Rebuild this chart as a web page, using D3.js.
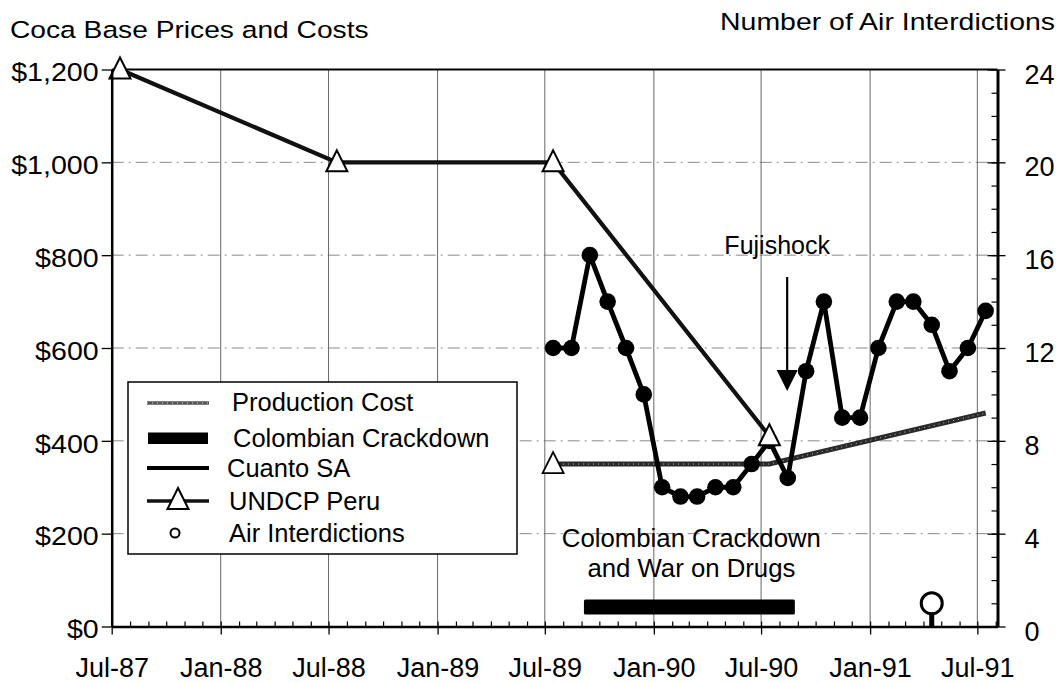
<!DOCTYPE html>
<html><head><meta charset="utf-8">
<script src="https://cdn.jsdelivr.net/npm/d3@7"></script>
<style>
html,body{margin:0;padding:0;background:#fff;}
svg{display:block;font-family:"Liberation Sans",Arial,Helvetica,sans-serif;}
</style></head><body>
<svg id="chart" width="1060" height="683"></svg>
<script>
// ---------- data ----------
const xTickDates = ["1987-07-01","1988-01-01","1988-07-01","1989-01-01","1989-07-01","1990-01-01","1990-07-01","1991-01-01","1991-07-01"];
const xTickLabels = ["Jul-87","Jan-88","Jul-88","Jan-89","Jul-89","Jan-90","Jul-90","Jan-91","Jul-91"];
const leftTickValues = [0,200,400,600,800,1000,1200];
const leftTickLabels = ["$0","$200","$400","$600","$800","$1,000","$1,200"];
const rightTickValues = [0,4,8,12,16,20,24];
const rightTickLabels = ["0","4","8","12","16","20","24"];

const undcpDates = ["1987-07-15","1988-07-15","1989-07-15","1990-07-15"];
const undcpValues = [1200,1000,1000,410];

const cuantoMonths = ["1989-07","1989-08","1989-09","1989-10","1989-11","1989-12",
  "1990-01","1990-02","1990-03","1990-04","1990-05","1990-06","1990-07","1990-08",
  "1990-09","1990-10","1990-11","1990-12","1991-01","1991-02","1991-03","1991-04",
  "1991-05","1991-06","1991-07"];
const cuantoValues = [600,600,800,700,600,500,300,280,280,300,300,350,400,320,550,700,450,450,600,700,700,650,550,600,680];

const costDates = ["1989-07-15","1990-07-15","1991-07-15"];
const costValues = [350,350,460];

const crackdownPeriod = ["1989-09-05","1990-08-27"];
const interdictionDates = ["1991-04-15"];
const interdictionValues = [1];
const fujishockDate = "1990-08-14";

const legendLabels = ["Production Cost","Colombian Crackdown","Cuanto SA","UNDCP Peru","Air Interdictions"];
const leftTitle = "Coca Base Prices and Costs";
const rightTitle = "Number of Air Interdictions";
const fujiLabel = "Fujishock";
const crackdownLabel = ["Colombian Crackdown","and War on Drugs"];

// ---------- setup ----------
const parseDay = d3.timeParse("%Y-%m-%d");
const parseMonth = d3.timeParse("%Y-%m");
const svg = d3.select("#chart");
const L = 111.7, R = 997.5, T = 69.5, B = 626.5;

const x = d3.scaleTime().domain([parseDay("1987-07-01"), parseDay("1991-08-04")]).range([L, R]);
const yL = d3.scaleLinear().domain([0,1200]).range([B, T]);
const yR = d3.scaleLinear().domain([0,24]).range([B, T]);

function stretch(sel, k){
  sel.each(function(){
    const len = this.getComputedTextLength();
    if(len>0){ this.setAttribute("textLength",(len*k).toFixed(1)); this.setAttribute("lengthAdjust","spacingAndGlyphs"); }
  });
}

// ---------- grid ----------
const grid = svg.append("g");
grid.selectAll("line.h").data(leftTickValues.filter(v=>v>0 && v<1200)).join("line")
  .attr("x1", L).attr("x2", R).attr("y1", d=>yL(d)).attr("y2", d=>yL(d))
  .attr("stroke","#888").attr("stroke-width",1).attr("stroke-dasharray","12,5,2,5");
grid.selectAll("line.v").data(xTickDates.slice(1)).join("line")
  .attr("x1", d=>x(parseDay(d))).attr("x2", d=>x(parseDay(d))).attr("y1", T).attr("y2", B)
  .attr("stroke","#666").attr("stroke-width",1);
// top frame
svg.append("line").attr("x1",L).attr("x2",R).attr("y1",T).attr("y2",T).attr("stroke","#000").attr("stroke-width",2);

// ---------- legend ----------
const lg = svg.append("g");
lg.append("rect").attr("x",128).attr("y",382).attr("width",389).attr("height",172)
  .attr("fill","#fff").attr("stroke","#000").attr("stroke-width",1.5);
const rowY = [402,438,468,501,533];
lg.append("line").attr("x1",147).attr("x2",209).attr("y1",rowY[0]+1).attr("y2",rowY[0]+1).attr("stroke","#555").attr("stroke-width",3.5);
lg.append("line").attr("x1",147).attr("x2",209).attr("y1",rowY[0]+1).attr("y2",rowY[0]+1).attr("stroke","#ddd").attr("stroke-width",1).attr("stroke-dasharray","1,4");
lg.append("rect").attr("x",148).attr("y",rowY[1]-5.5).attr("width",60).attr("height",11.5).attr("fill","#000");
lg.append("line").attr("x1",147).attr("x2",209).attr("y1",rowY[2]).attr("y2",rowY[2]).attr("stroke","#000").attr("stroke-width",4);
lg.append("line").attr("x1",147).attr("x2",209).attr("y1",rowY[3]).attr("y2",rowY[3]).attr("stroke","#111").attr("stroke-width",3.5);
const triPath = "M0,-12L10.5,9L-10.5,9Z";
lg.append("path").attr("d",triPath).attr("transform",`translate(178,${rowY[3]-1})`).attr("fill","#fff").attr("stroke","#000").attr("stroke-width",2);
lg.append("circle").attr("cx",175).attr("cy",rowY[4]).attr("r",4.5).attr("fill","#fff").attr("stroke","#000").attr("stroke-width",2);
const legText = lg.selectAll("text").data(legendLabels).join("text")
  .attr("x",(d,i)=>[232,233,227,229,229][i]).attr("y",(d,i)=>rowY[i]+9)
  .attr("font-size",25).attr("fill","#000").text(d=>d);

// ---------- production cost ----------
const costData = costDates.map((d,i)=>({date:parseDay(d), v:costValues[i]}));
const costLine = d3.line().x(d=>x(d.date)).y(d=>yL(d.v));
svg.append("path").datum(costData).attr("d",costLine).attr("fill","none").attr("stroke","#2a2a2a").attr("stroke-width",5);
svg.append("path").datum(costData).attr("d",costLine).attr("fill","none").attr("stroke","#bbb").attr("stroke-width",1).attr("stroke-dasharray","1,4");
svg.append("path").attr("d",triPath)
  .attr("transform",`translate(${x(costData[0].date)},${yL(costData[0].v)})`)
  .attr("fill","#fff").attr("stroke","#000").attr("stroke-width",1.8);

// ---------- UNDCP Peru ----------
const undcpData = undcpDates.map((d,i)=>({date:parseDay(d), v:undcpValues[i]}));
svg.append("path").datum(undcpData).attr("d",d3.line().x(d=>x(d.date)).y(d=>yL(d.v)))
  .attr("fill","none").attr("stroke","#111").attr("stroke-width",4.2);

// ---------- Cuanto SA ----------
const cuantoData = cuantoMonths.map((m,i)=>({date:d3.timeDay.offset(parseMonth(m),14), v:cuantoValues[i]}));
svg.append("path").datum(cuantoData).attr("d",d3.line().x(d=>x(d.date)).y(d=>yL(d.v)))
  .attr("fill","none").attr("stroke","#000").attr("stroke-width",4.8).attr("stroke-linejoin","round");
svg.selectAll("circle.cu").data(cuantoData).join("circle").attr("class","cu")
  .attr("cx",d=>x(d.date)).attr("cy",d=>yL(d.v)).attr("r",8.3).attr("fill","#000");

svg.selectAll("path.tri").data(undcpData).join("path").attr("class","tri")
  .attr("d",triPath).attr("transform",d=>`translate(${x(d.date)},${yL(d.v)})`)
  .attr("fill","#fff").attr("stroke","#000").attr("stroke-width",2);

// ---------- crackdown bar ----------
const cs = x(parseDay(crackdownPeriod[0])), ce = x(parseDay(crackdownPeriod[1]));
svg.append("rect").attr("x",cs).attr("y",B-27).attr("width",ce-cs).attr("height",15).attr("fill","#000").attr("rx",1.5);
const cText = svg.append("g").selectAll("text").data(crackdownLabel).join("text")
  .attr("x",(cs+ce)/2+2).attr("y",(d,i)=>547+i*30).attr("text-anchor","middle")
  .attr("font-size",25).attr("fill","#000").text(d=>d);

// ---------- air interdictions ----------
const airData = interdictionDates.map((d,i)=>({date:parseDay(d), v:interdictionValues[i]}));
svg.selectAll("line.stem").data(airData).join("line").attr("class","stem")
  .attr("x1",d=>x(d.date)).attr("x2",d=>x(d.date)).attr("y1",yR(0)).attr("y2",d=>yR(d.v))
  .attr("stroke","#000").attr("stroke-width",5);
svg.selectAll("circle.air").data(airData).join("circle").attr("class","air")
  .attr("cx",d=>x(d.date)).attr("cy",d=>yR(d.v)).attr("r",10.5)
  .attr("fill","#fff").attr("stroke","#000").attr("stroke-width",3);

// ---------- Fujishock ----------
const fx = x(parseDay(fujishockDate));
svg.append("line").attr("x1",fx).attr("x2",fx).attr("y1",277).attr("y2",372).attr("stroke","#000").attr("stroke-width",2.2);
svg.append("path").attr("d",`M${fx-10.5},370L${fx+10.5},370L${fx},391Z`).attr("fill","#000");
const fText = svg.append("text").attr("x",fx-10).attr("y",254).attr("text-anchor","middle")
  .attr("font-size",25).attr("fill","#000").text(fujiLabel);

// ---------- axes ----------
function styleAxis(g, domainW, fs){
  g.attr("font-family",null).attr("font-size",null);
  g.select(".domain").attr("stroke","#000").attr("stroke-width",domainW);
  g.selectAll(".tick line").attr("stroke","#000").attr("stroke-width",1.3);
  g.selectAll(".tick text").attr("font-size",fs).attr("fill","#000");
}
const minorMonths = d3.timeMonth.range(parseDay("1987-08-01"), parseDay("1991-08-02"));
const gbm = svg.append("g").attr("transform",`translate(0,${B})`)
  .call(d3.axisBottom(x).tickValues(minorMonths).tickSize(-5).tickSizeOuter(0).tickFormat(""));
gbm.select(".domain").remove();
gbm.selectAll(".tick line").attr("stroke","#000").attr("stroke-width",1.2);
const gb = svg.append("g").attr("transform",`translate(0,${B})`)
  .call(d3.axisBottom(x).tickValues(xTickDates.map(parseDay)).tickFormat((d,i)=>xTickLabels[i])
    .tickSize(8).tickSizeOuter(0).tickPadding(23));
styleAxis(gb, 2.5, 27);
const gl = svg.append("g").attr("transform",`translate(${L},0)`)
  .call(d3.axisLeft(yL).tickValues(leftTickValues).tickFormat((d,i)=>leftTickLabels[i])
    .tickSize(10).tickSizeOuter(0).tickPadding(3));
styleAxis(gl, 2.5, 26);
gl.selectAll(".tick text").attr("dy","0.43em");
const grm = svg.append("g").attr("transform",`translate(${R},0)`)
  .call(d3.axisRight(yR).tickValues(d3.range(0,25)).tickSize(-6).tickSizeOuter(0).tickFormat(""));
grm.select(".domain").remove();
grm.selectAll(".tick line").attr("stroke","#000").attr("stroke-width",1.2);
const gr = svg.append("g").attr("transform",`translate(${R},0)`)
  .call(d3.axisRight(yR).tickValues(rightTickValues).tickFormat((d,i)=>rightTickLabels[i])
    .tickSize(8).tickSizeOuter(0).tickPadding(19));
styleAxis(gr, 3, 27);
gr.selectAll(".tick line").attr("x1",-10);
gr.selectAll(".tick text").attr("dy","0.5em");

// ---------- titles ----------
const t1 = svg.append("text").attr("x",10).attr("y",38).attr("font-size",24.5).attr("fill","#000").text(leftTitle);
const t2 = svg.append("text").attr("x",1055).attr("y",29.5).attr("text-anchor","end").attr("font-size",24.5).attr("fill","#000").text(rightTitle);

// ---------- widen text to the reference's face ----------
stretch(gl.selectAll(".tick text"), 1.1);
stretch(t1, 1.15); stretch(t2, 1.16);
stretch(legText, 1.02);
stretch(cText, 1.03);
stretch(fText, 1.0);
</script>
</body></html>
